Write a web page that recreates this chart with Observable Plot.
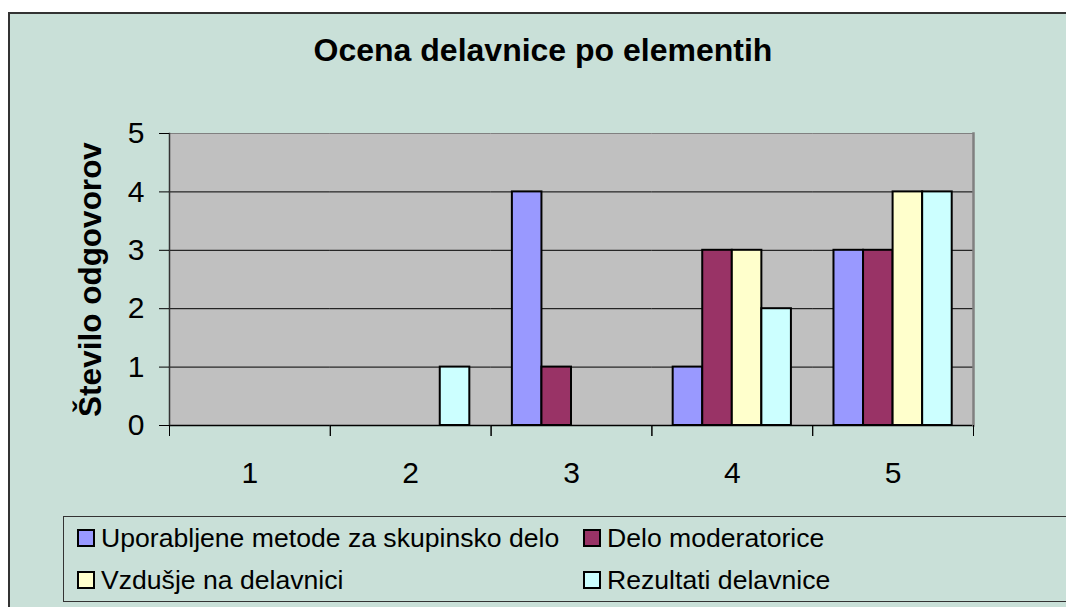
<!DOCTYPE html>
<html>
<head>
<meta charset="utf-8">
<script src="https://cdn.jsdelivr.net/npm/d3@7"></script>
<script src="https://cdn.jsdelivr.net/npm/@observablehq/plot@0.6"></script>
<style>
  html, body { margin: 0; padding: 0; background: #ffffff; overflow: hidden; }
  body { width: 1066px; height: 607px; position: relative; font-family: "Liberation Sans", Arial, sans-serif; }
  #chart {
    position: absolute; left: 8px; top: 12px; width: 1100px; height: 620px;
    background: #C9E0D8; border: 2px solid #333333; box-sizing: border-box;
  }
  #title {
    position: absolute; left: 0; top: 34px; width: 1086px; text-align: center;
    font-size: 32px; line-height: 32px; font-weight: bold; color: #000;
  }
  #plot { position: absolute; left: 10px; top: 100px; }
  #legend {
    position: absolute; left: 63px; top: 516px; width: 1100px; height: 86px;
    border: 1px solid #333333; box-sizing: border-box;
  }
  .row { display: flex; height: 42px; align-items: center; padding-left: 13px; }
  .item { display: flex; align-items: center; width: 506px; font-size: 26.6px; line-height: 27px; color: #000; }
  .sw { width: 18px; height: 18px; box-sizing: border-box; border: 2px solid #000; margin-right: 6px; flex: none; }
</style>
</head>
<body>
<div id="chart"></div>
<div id="title"></div>
<div id="plot"></div>
<div id="legend"></div>
<script>
const title = "Ocena delavnice po elementih";
const yLabel = "Število odgovorov";
const categories = [1, 2, 3, 4, 5];
const seriesNames = [
  "Uporabljene metode za skupinsko delo",
  "Delo moderatorice",
  "Vzdušje na delavnici",
  "Rezultati delavnice"
];
const seriesColors = ["#9999FF", "#993366", "#FFFFCC", "#CCFFFF"];
const metodeValues = [0, 0, 4, 1, 3];
const moderatoriceValues = [0, 0, 1, 3, 3];
const vzdusjeValues = [0, 0, 0, 3, 4];
const rezultatiValues = [0, 1, 0, 2, 4];
const yTicks = [0, 1, 2, 3, 4, 5];

const seriesValues = [metodeValues, moderatoriceValues, vzdusjeValues, rezultatiValues];
const data = [];
categories.forEach((c, ci) => {
  seriesNames.forEach((s, si) => {
    data.push({cat: c, series: s, value: seriesValues[si][ci]});
  });
});

document.getElementById("title").textContent = title;

const W = 1056, H = 400, mT = 33, mB = 75, mL = 159, mR = 93;
const plotH = H - mT - mB;

const chart = Plot.plot({
  width: W,
  height: H,
  marginTop: mT,
  marginBottom: mB,
  marginLeft: mL,
  marginRight: mR,
  style: {background: "transparent", fontFamily: "'Liberation Sans', Arial, sans-serif", fontSize: "30px", color: "#000", overflow: "visible"},
  fx: {domain: categories, padding: 0, round: false, label: null},
  x: {domain: seriesNames, paddingInner: 0, paddingOuter: 0.72, round: false, axis: null},
  y: {domain: [0, 5], label: null},
  color: {domain: seriesNames, range: seriesColors},
  marks: [
    Plot.frame({fill: "#C0C0C0", stroke: "#C0C0C0", strokeWidth: 1}),
    Plot.ruleY([1, 2, 3, 4], {stroke: "#000", strokeWidth: 1}),
    Plot.ruleY([5], {stroke: "#808080", strokeWidth: 1.2}),
    Plot.barY(data, {fx: "cat", x: "series", y: "value", fill: "series", stroke: "#000", strokeWidth: 2}),
    Plot.ruleY([0], {stroke: "#000", strokeWidth: 1.5}),
    Plot.frame({anchor: "right", stroke: "#808080", strokeWidth: 2.5, facetAnchor: "right"}),
    Plot.frame({anchor: "left", stroke: "#333", strokeWidth: 1.5, facetAnchor: "left"}),
    Plot.frame({anchor: "left", stroke: "#000", strokeWidth: 1, insetTop: plotH, insetBottom: -10}),
    Plot.frame({anchor: "right", stroke: "#000", strokeWidth: 1, insetTop: plotH, insetBottom: -10}),
    Plot.axisY({ticks: yTicks, tickSize: 10, tickPadding: 15, tickFormat: d => String(d), label: null, fontSize: 30, stroke: "#000"}),
    Plot.axisFx({anchor: "bottom", tickSize: 0, tickPadding: 36, label: null, fontSize: 30}),
    Plot.text([yLabel], {frameAnchor: "left", textAnchor: "middle", rotate: -90, dx: -79, fontWeight: "bold", fontSize: 31.5, fill: "#000", facetAnchor: "left"})
  ]
});
document.getElementById("plot").appendChild(chart);

const legend = document.getElementById("legend");
const rows = [[0, 1], [2, 3]];
rows.forEach(r => {
  const row = document.createElement("div");
  row.className = "row";
  r.forEach(i => {
    const item = document.createElement("div");
    item.className = "item";
    const sw = document.createElement("div");
    sw.className = "sw";
    sw.style.background = seriesColors[i];
    const t = document.createElement("span");
    t.textContent = seriesNames[i];
    item.appendChild(sw);
    item.appendChild(t);
    row.appendChild(item);
  });
  legend.appendChild(row);
});
</script>
</body>
</html>
